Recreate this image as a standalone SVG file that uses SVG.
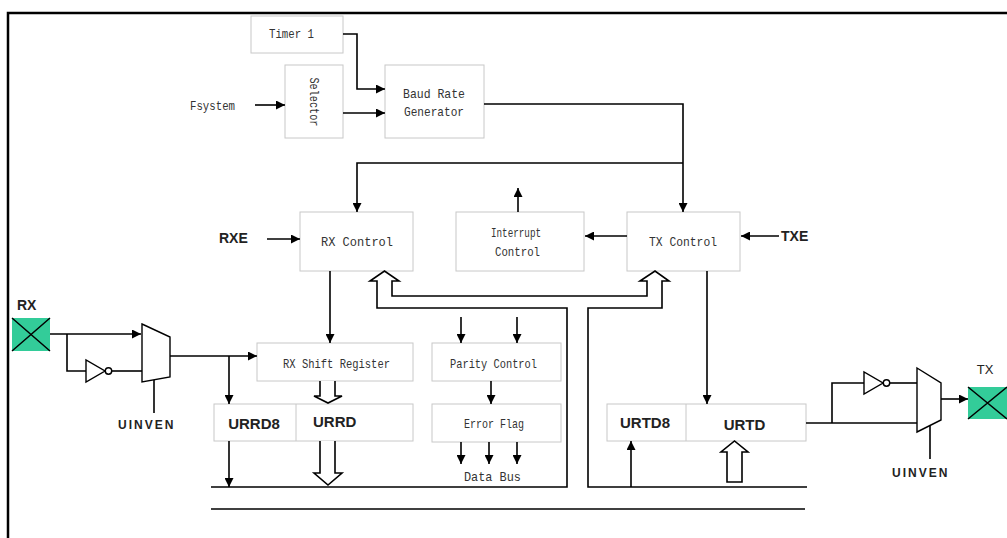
<svg xmlns="http://www.w3.org/2000/svg" width="1007" height="538" viewBox="0 0 1007 538">
<defs>
<marker id="ah" viewBox="0 0 10 10" refX="10" refY="5" markerWidth="9" markerHeight="9" markerUnits="userSpaceOnUse" orient="auto"><path d="M0,0 L10,5 L0,10 z" fill="#000"/></marker>
</defs>
<style>
.box{fill:#fff;stroke:#c8c8c8;stroke-width:1}
.t{font-family:"Liberation Mono","DejaVu Sans Mono",monospace;font-size:13px;fill:#333;text-anchor:middle}
.b{font-family:"Liberation Sans",Arial,sans-serif;font-weight:bold;font-size:15px;fill:#222}
.l{font-family:"Liberation Sans",Arial,sans-serif;font-size:14px;fill:#222}
.u{font-family:"Liberation Sans",Arial,sans-serif;font-weight:bold;font-size:12px;letter-spacing:2px;fill:#222}
.w{fill:none;stroke:#000;stroke-width:1.6}
.a{fill:none;stroke:#000;stroke-width:1.6;marker-end:url(#ah)}
.h{fill:#fff;stroke:#000;stroke-width:1.6;stroke-linejoin:miter}
.g{fill:#fff;stroke:#000;stroke-width:1.4}
.pad{fill:#33cc99}
.x{stroke:#000;stroke-width:1.5}
.frame{fill:none;stroke:#000;stroke-width:2.5}
</style>
<path class="frame" d="M8,538 L8,13 L1007,13"/>

<g id="timer1"><rect class="box" x="251" y="16" width="92" height="37"/><text class="t" x="291.5" y="38" textLength="45" lengthAdjust="spacingAndGlyphs">Timer 1</text></g>
<g id="fsystem"><text class="t" x="190" y="110" style="text-anchor:start" textLength="45" lengthAdjust="spacingAndGlyphs">Fsystem</text></g>
<g id="selector"><rect class="box" x="285" y="65" width="58" height="73"/><text class="t" x="313" y="105" transform="rotate(90 313 102)" textLength="49" lengthAdjust="spacingAndGlyphs">Selector</text></g>
<g id="baud"><rect class="box" x="385" y="65" width="99" height="73"/><text class="t" x="434" y="98" textLength="62" lengthAdjust="spacingAndGlyphs">Baud Rate</text><text class="t" x="434" y="116" textLength="60" lengthAdjust="spacingAndGlyphs">Generator</text></g>
<g id="rxe"><text class="l" x="219" y="243" font-weight="bold">RXE</text></g>
<g id="rxctrl"><rect class="box" x="300" y="212" width="113" height="59"/><text class="t" x="357" y="246" textLength="72" lengthAdjust="spacingAndGlyphs">RX Control</text></g>
<g id="intctrl"><rect class="box" x="456" y="212" width="128" height="59"/><text class="t" x="516" y="237" textLength="50" lengthAdjust="spacingAndGlyphs">Interrupt</text><text class="t" x="517.5" y="256" textLength="45" lengthAdjust="spacingAndGlyphs">Control</text></g>
<g id="txctrl"><rect class="box" x="627" y="212" width="113" height="59"/><text class="t" x="683" y="246" textLength="68" lengthAdjust="spacingAndGlyphs">TX Control</text></g>
<g id="txe"><text class="l" x="781" y="241" font-weight="bold">TXE</text></g>
<g id="rxshift"><rect class="box" x="257" y="343" width="156" height="38"/><text class="t" x="336.5" y="368" textLength="107" lengthAdjust="spacingAndGlyphs">RX Shift Register</text></g>
<g id="urrd"><rect class="box" x="214" y="404" width="199" height="37"/><line class="box" x1="296" y1="404" x2="296" y2="441"/><text class="b" x="254" y="429" text-anchor="middle">URRD8</text><text class="b" x="313" y="427">URRD</text></g>
<g id="parity"><rect class="box" x="432" y="343" width="129" height="38"/><text class="t" x="493.5" y="368" textLength="87" lengthAdjust="spacingAndGlyphs">Parity Control</text></g>
<g id="errflag"><rect class="box" x="432" y="404" width="129" height="38"/><text class="t" x="494" y="428" textLength="60" lengthAdjust="spacingAndGlyphs">Error Flag</text></g>
<g id="databus"><text class="t" x="492.5" y="481" textLength="57" lengthAdjust="spacingAndGlyphs">Data Bus</text></g>
<g id="urtd"><rect class="box" x="607" y="404" width="199" height="37"/><line class="box" x1="686" y1="404" x2="686" y2="441"/><text class="b" x="645" y="428" text-anchor="middle">URTD8</text><text class="b" x="744.5" y="430" text-anchor="middle">URTD</text></g>

<g id="rxpad"><rect class="pad" x="12" y="318" width="38" height="33"/><path class="x" d="M12,318 L50,351 M50,318 L12,351"/><text class="b" x="17" y="310" style="font-size:14px">RX</text></g>
<g id="rxinv"><path class="g" d="M86,360 L86,382 L105,371 Z"/><circle class="g" cx="108.5" cy="371" r="3.2"/></g>
<g id="rxmux"><path class="g" d="M142,324 L170,337 L170,377 L142,382 Z"/><text class="u" x="118" y="429">UINVEN</text></g>
<g id="txpad"><rect class="pad" x="968" y="387" width="39" height="32"/><path class="x" d="M968,387 L1007,419 M1007,387 L968,419"/><text class="l" x="985" y="374" text-anchor="middle" style="font-size:13px">TX</text></g>
<g id="txinv"><path class="g" d="M864,372 L864,394 L883,383 Z"/><circle class="g" cx="886.5" cy="383" r="3.2"/></g>
<g id="txmux"><path class="g" d="M917,368 L941,383 L941,420 L917,432 Z"/><text class="u" x="892" y="477">UINVEN</text></g>

<g id="connectors">
<path class="a" d="M255,105 L285,105"/>
<path class="a" d="M343,34 L357,34 L357,89 L385,89"/>
<path class="a" d="M343,113 L385,113"/>
<path class="a" d="M484,104 L683,104 L683,212"/>
<path class="a" d="M683,163 L357,163 L357,212"/>
<path class="a" d="M518,212 L518,188"/>
<path class="a" d="M267,239 L300,239"/>
<path class="a" d="M779,236 L741,236"/>
<path class="a" d="M627,236 L585,236"/>
<path class="a" d="M330,271 L330,343"/>
<path class="a" d="M461,317 L461,343"/>
<path class="a" d="M517,317 L517,343"/>
<path class="a" d="M491,381 L491,404"/>
<path class="a" d="M461,442 L461,464"/>
<path class="a" d="M489,442 L489,464"/>
<path class="a" d="M517,442 L517,464"/>
<path class="a" d="M50,334 L141,334"/>
<path class="w" d="M67,334 L67,371 L86,371"/>
<path class="w" d="M111.7,371 L142,371"/>
<path class="a" d="M170,356 L257,356"/>
<path class="a" d="M229,356 L229,404"/>
<path class="w" d="M154,380 L154,413"/>
<path class="a" d="M229,441 L229,487"/>
<path class="a" d="M707,271 L707,404"/>
<path class="a" d="M631,487 L631,441"/>
<path class="w" d="M806,423 L917,423"/>
<path class="w" d="M832,423 L832,383 L864,383"/>
<path class="w" d="M889.7,383 L917,383"/>
<path class="a" d="M941,399 L968,399"/>
<path class="w" d="M930,426 L930,459"/>
<path class="w" d="M211,487 L567,487 L567,308 L377,308 L377,281 L370,281 L384.5,271 L399,281 L392,281 L392,296 L647,296 L647,281 L640,281 L655,271 L669,281 L662,281 L662,308 L588,308 L588,487 L807,487"/>
<path class="w" d="M211,509 L805,509"/>
<path class="h" d="M320,381 L320,396 L314,396 L328,403 L342,396 L335,396 L335,381"/>
<path class="h" d="M320,441 L320,473 L314,473 L328,485 L342,473 L335,473 L335,441"/>
<path class="h" d="M727,482 L727,452 L721,452 L734.5,441 L748,452 L742,452 L742,482 Z"/>
</g>
</svg>
